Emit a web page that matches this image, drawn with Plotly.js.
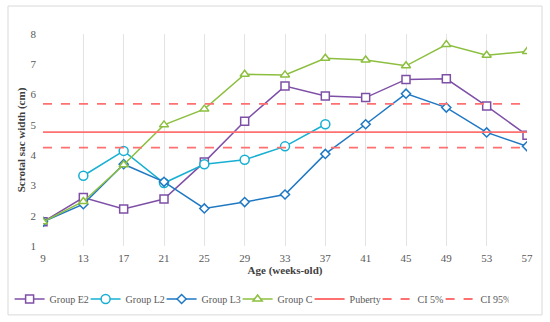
<!DOCTYPE html>
<html>
<head>
<meta charset="utf-8">
<script src="https://cdn.plot.ly/plotly-3.0.1.min.js"></script>
<style>html,body{margin:0;padding:0;background:#fff;}#chart{width:550px;height:322px;}</style>
</head>
<body>
<div id="chart"></div>
<script>
var ages = [9, 13, 17, 21, 25, 29, 33, 37, 41, 45, 49, 53, 57];
var groupE2 = [1.8, 2.6, 2.22, 2.55, 3.77, 5.12, 6.28, 5.95, 5.9, 6.5, 6.52, 5.62, 4.66];
var groupL2 = [null, 3.32, 4.14, 3.08, 3.7, 3.85, 4.29, 5.02, null, null, null, null, null];
var groupL3 = [1.8, 2.38, 3.7, 3.12, 2.24, 2.45, 2.7, 4.04, 5.02, 6.03, 5.57, 4.75, 4.29];
var groupC = [1.8, 2.47, 3.68, 5.0, 5.52, 6.67, 6.65, 7.2, 7.14, 6.95, 7.65, 7.3, 7.42];
var puberty = 4.76;
var ci5 = 4.25;
var ci95 = 5.69;
var seriesNames = ['Group E2', 'Group L2', 'Group L3', 'Group C', 'Puberty', 'CI 5%', 'CI 95%'];

var FONT = 'Liberation Serif, Times New Roman, serif';
var red = '#FF7070';

function markerSeries(name, y, color, symbol, size, lw) {
  return {
    x: ages, y: y, name: name, type: 'scatter', mode: 'lines+markers',
    connectgaps: false, legendwidth: lw,
    line: {color: color, width: 1.5},
    marker: {symbol: symbol, size: size, color: '#ffffff', line: {color: color, width: 1.5}}
  };
}
function constSeries(name, v, dash, lw) {
  return {
    x: [ages[0], ages[ages.length - 1]], y: [v, v], name: name, type: 'scatter', mode: 'lines',
    legendwidth: lw,
    line: {color: red, width: 1.8, dash: dash}
  };
}

var data = [
  markerSeries(seriesNames[0], groupE2, '#7E4FA6', 'square', 8, 31),
  markerSeries(seriesNames[1], groupL2, '#17B0D2', 'circle', 9, 31),
  markerSeries(seriesNames[2], groupL3, '#1F78C4', 'diamond', 7, 31),
  markerSeries(seriesNames[3], groupC, '#8CBF3F', 'triangle-up', 8, 27),
  constSeries(seriesNames[4], puberty, 'solid', 23),
  constSeries(seriesNames[5], ci5, 'dash', 18),
  constSeries(seriesNames[6], ci95, 'dash', 23)
];

var layout = {
  width: 550, height: 322,
  margin: {l: 43, r: 23, t: 34, b: 76, autoexpand: false},
  paper_bgcolor: '#ffffff', plot_bgcolor: '#ffffff',
  font: {family: FONT, color: '#595959', size: 11},
  showlegend: true,
  legend: {orientation: 'h', x: -0.069, xanchor: 'left', y: -0.25, yanchor: 'middle',
           font: {family: FONT, size: 10, color: '#595959'}, itemwidth: 30, tracegroupgap: 0},
  xaxis: {
    range: [9, 57], tickmode: 'array', tickvals: ages, ticktext: ages.map(String),
    showgrid: true, gridcolor: '#E3E3E3', gridwidth: 1, zeroline: false,
    showline: false, ticks: '', ticklabelstandoff: 4,
    tickfont: {family: FONT, size: 11, color: '#595959'},
    title: {text: '<b>Age (weeks-old)</b>', font: {family: FONT, size: 11, color: '#404040'}, standoff: 1}
  },
  yaxis: {
    range: [1, 8], dtick: 1, showgrid: false, zeroline: false, showline: false, ticks: '',
    ticklabelstandoff: 6,
    tickfont: {family: FONT, size: 11, color: '#595959'},
    title: {text: '<b>Scrotal sac width (cm)</b>', font: {family: FONT, size: 11, color: '#404040'}, standoff: 2}
  },
  shapes: [
    {type: 'rect', xref: 'paper', yref: 'paper', x0: -0.0723, x1: 1.031, y0: -0.325, y1: 1.132,
     line: {color: '#D9D9D9', width: 1}, fillcolor: 'rgba(0,0,0,0)', layer: 'below'}
  ]
};

Plotly.newPlot('chart', data, layout, {displayModeBar: false, staticPlot: true});
</script>
</body>
</html>
